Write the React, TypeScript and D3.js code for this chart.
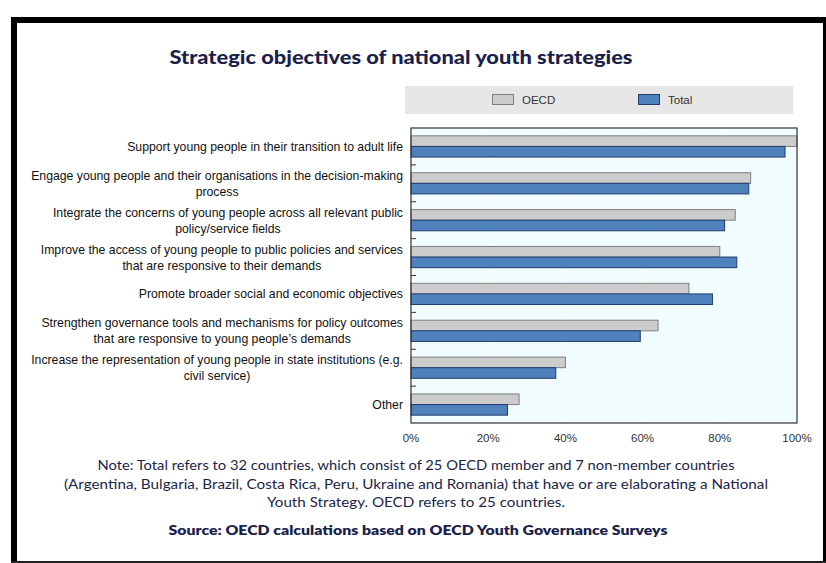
import React, { useEffect, useRef } from "react";
import * as d3 from "d3";

const categories: string[][] = [
  ["Support young people in their transition to adult life"],
  ["Engage young people and their organisations in the decision-making", "process"],
  ["Integrate the concerns of young people across all relevant public", "policy/service fields"],
  ["Improve the access of young people to public policies and services", "that are responsive to their demands"],
  ["Promote broader social and economic objectives"],
  ["Strengthen governance tools and mechanisms for policy outcomes", "that are responsive to young people\u2019s demands"],
  ["Increase the representation of young people in state institutions (e.g.", "civil service)"],
  ["Other"],
];
const oecdValues = [100, 88, 84, 80, 72, 64, 40, 28];
const totalValues = [96.9, 87.5, 81.25, 84.4, 78.1, 59.4, 37.5, 25];
const xTicks = [0, 20, 40, 60, 80, 100];
const seriesNames = ["OECD", "Total"];
const noteLines = [
  "Note: Total refers to 32 countries, which consist of 25 OECD member and 7 non-member countries",
  "(Argentina, Bulgaria, Brazil, Costa Rica, Peru, Ukraine and Romania) that have or are elaborating a National",
  "Youth Strategy. OECD refers to 25 countries.",
];
const noteWidths = [637, 704, 298];
const sourceText = "Source: OECD calculations based on OECD Youth Governance Surveys";
const titleText = "Strategic objectives of national youth strategies";

const W = 826;
const H = 563;
const NARROW = "'Liberation Sans Narrow', 'Arial Narrow', 'Liberation Sans', sans-serif";
const GEO = "Lato, 'Open Sans', sans-serif";
const NAVY = "#1b1f4b";

export default function App() {
  const ref = useRef<SVGSVGElement | null>(null);
  useEffect(() => {
    const svg = d3.select(ref.current!);
    svg.selectAll("*").remove();

    // frame
    svg.append("rect").attr("x", 0).attr("y", 0).attr("width", W).attr("height", H).attr("fill", "#fff");
    svg.append("rect").attr("x", 11).attr("y", 17).attr("width", W - 11).attr("height", 6).attr("fill", "#000");
    svg.append("rect").attr("x", 11).attr("y", 17).attr("width", 6).attr("height", H - 17).attr("fill", "#000");
    svg.append("rect").attr("x", 823).attr("y", 17).attr("width", 3).attr("height", H - 17).attr("fill", "#000");
    svg.append("rect").attr("x", 11).attr("y", 561).attr("width", W - 11).attr("height", 2).attr("fill", "#222");

    // title
    svg.append("text").attr("x", 401).attr("y", 64).attr("text-anchor", "middle")
      .attr("font-family", GEO).attr("font-weight", 900).attr("font-size", 19).attr("fill", NAVY)
      .attr("textLength", 463).attr("lengthAdjust", "spacingAndGlyphs")
      .text(titleText);

    const left = 411, right = 797, top = 128, bottom = 423;
    const x = d3.scaleLinear().domain([0, 100]).range([left, right]);
    const y = d3.scaleBand<number>().domain(d3.range(categories.length)).range([top, bottom]);
    const barH = 10.6;

    // legend
    svg.append("rect").attr("x", 405).attr("y", 86).attr("width", 388).attr("height", 28).attr("fill", "#e6e6e6");
    const legendItems = [
      { name: seriesNames[0], fill: "#cccccc", stroke: "#7f7f7f", sx: 492 },
      { name: seriesNames[1], fill: "#4f81bd", stroke: "#1f3c6e", sx: 638 },
    ];
    legendItems.forEach((it) => {
      svg.append("rect").attr("x", it.sx + 0.5).attr("y", 94.5).attr("width", 21).attr("height", 10)
        .attr("fill", it.fill).attr("stroke", it.stroke).attr("stroke-width", 1);
      svg.append("text").attr("x", it.sx + 30).attr("y", 104).attr("font-family", NARROW)
        .attr("font-size", 11.5).attr("fill", "#333").text(it.name);
    });

    // plot background
    svg.append("rect").attr("x", left).attr("y", top).attr("width", right - left).attr("height", bottom - top)
      .attr("fill", "#f1fcfe");
    // gridlines
    xTicks.slice(1, -1).forEach((t) => {
      svg.append("line").attr("x1", x(t)).attr("x2", x(t)).attr("y1", top).attr("y2", bottom)
        .attr("stroke", "#ffffff").attr("stroke-width", 1);
    });

    // bars
    categories.forEach((_, i) => {
      const c = y(i)! + y.bandwidth() / 2;
      svg.append("rect").attr("x", x(0)).attr("y", c - barH).attr("width", x(oecdValues[i]) - x(0)).attr("height", barH)
        .attr("fill", "#cccccc").attr("stroke", "#7f7f7f").attr("stroke-width", 1);
      svg.append("rect").attr("x", x(0)).attr("y", c).attr("width", x(totalValues[i]) - x(0)).attr("height", barH)
        .attr("fill", "#4f81bd").attr("stroke", "#1f3c6e").attr("stroke-width", 1);
    });

    // frame of plot
    svg.append("rect").attr("x", left).attr("y", top).attr("width", right - left).attr("height", bottom - top)
      .attr("fill", "none").attr("stroke", "#333").attr("stroke-width", 1.2);

    // y ticks at band boundaries
    d3.range(1, categories.length).forEach((i) => {
      const yy = y(i)!;
      svg.append("line").attr("x1", left).attr("x2", left + 5).attr("y1", yy).attr("y2", yy)
        .attr("stroke", "#333").attr("stroke-width", 1);
    });

    // x tick labels
    xTicks.forEach((t) => {
      svg.append("text").attr("x", x(t)).attr("y", 442).attr("text-anchor", "middle")
        .attr("font-family", NARROW).attr("font-size", 11.5).attr("fill", "#333").text(`${t}%`);
    });

    // category labels
    const lh = 16;
    categories.forEach((lines, i) => {
      const c = y(i)! + y.bandwidth() / 2;
      const g = svg.append("g");
      const texts = lines.map((ln, k) =>
        g.append("text").attr("font-family", NARROW).attr("font-size", 12.25).attr("fill", "#111")
          .attr("y", c + (k - (lines.length - 1) / 2) * lh + 4.5).text(ln)
      );
      const widths = texts.map((t) => (t.node() as SVGTextElement).getComputedTextLength());
      const maxW = Math.max(...widths);
      const cx = 403 - maxW / 2;
      texts.forEach((t) => t.attr("x", cx).attr("text-anchor", "middle"));
    });

    // note
    noteLines.forEach((ln, k) => {
      svg.append("text").attr("x", 416).attr("y", 470 + k * 18.5).attr("text-anchor", "middle")
        .attr("font-family", GEO).attr("font-size", 13.5).attr("fill", NAVY)
        .attr("textLength", noteWidths[k]).attr("lengthAdjust", "spacingAndGlyphs").text(ln);
    });
    svg.append("text").attr("x", 418).attr("y", 535).attr("text-anchor", "middle")
      .attr("font-family", GEO).attr("font-weight", 800).attr("font-size", 13).attr("fill", NAVY)
      .attr("textLength", 499).attr("lengthAdjust", "spacingAndGlyphs").text(sourceText);
  }, []);

  return (
    <div style={{ position: "absolute", left: 0, top: 0 }}>
      <svg ref={ref} width={W} height={H} style={{ display: "block" }} />
    </div>
  );
}
